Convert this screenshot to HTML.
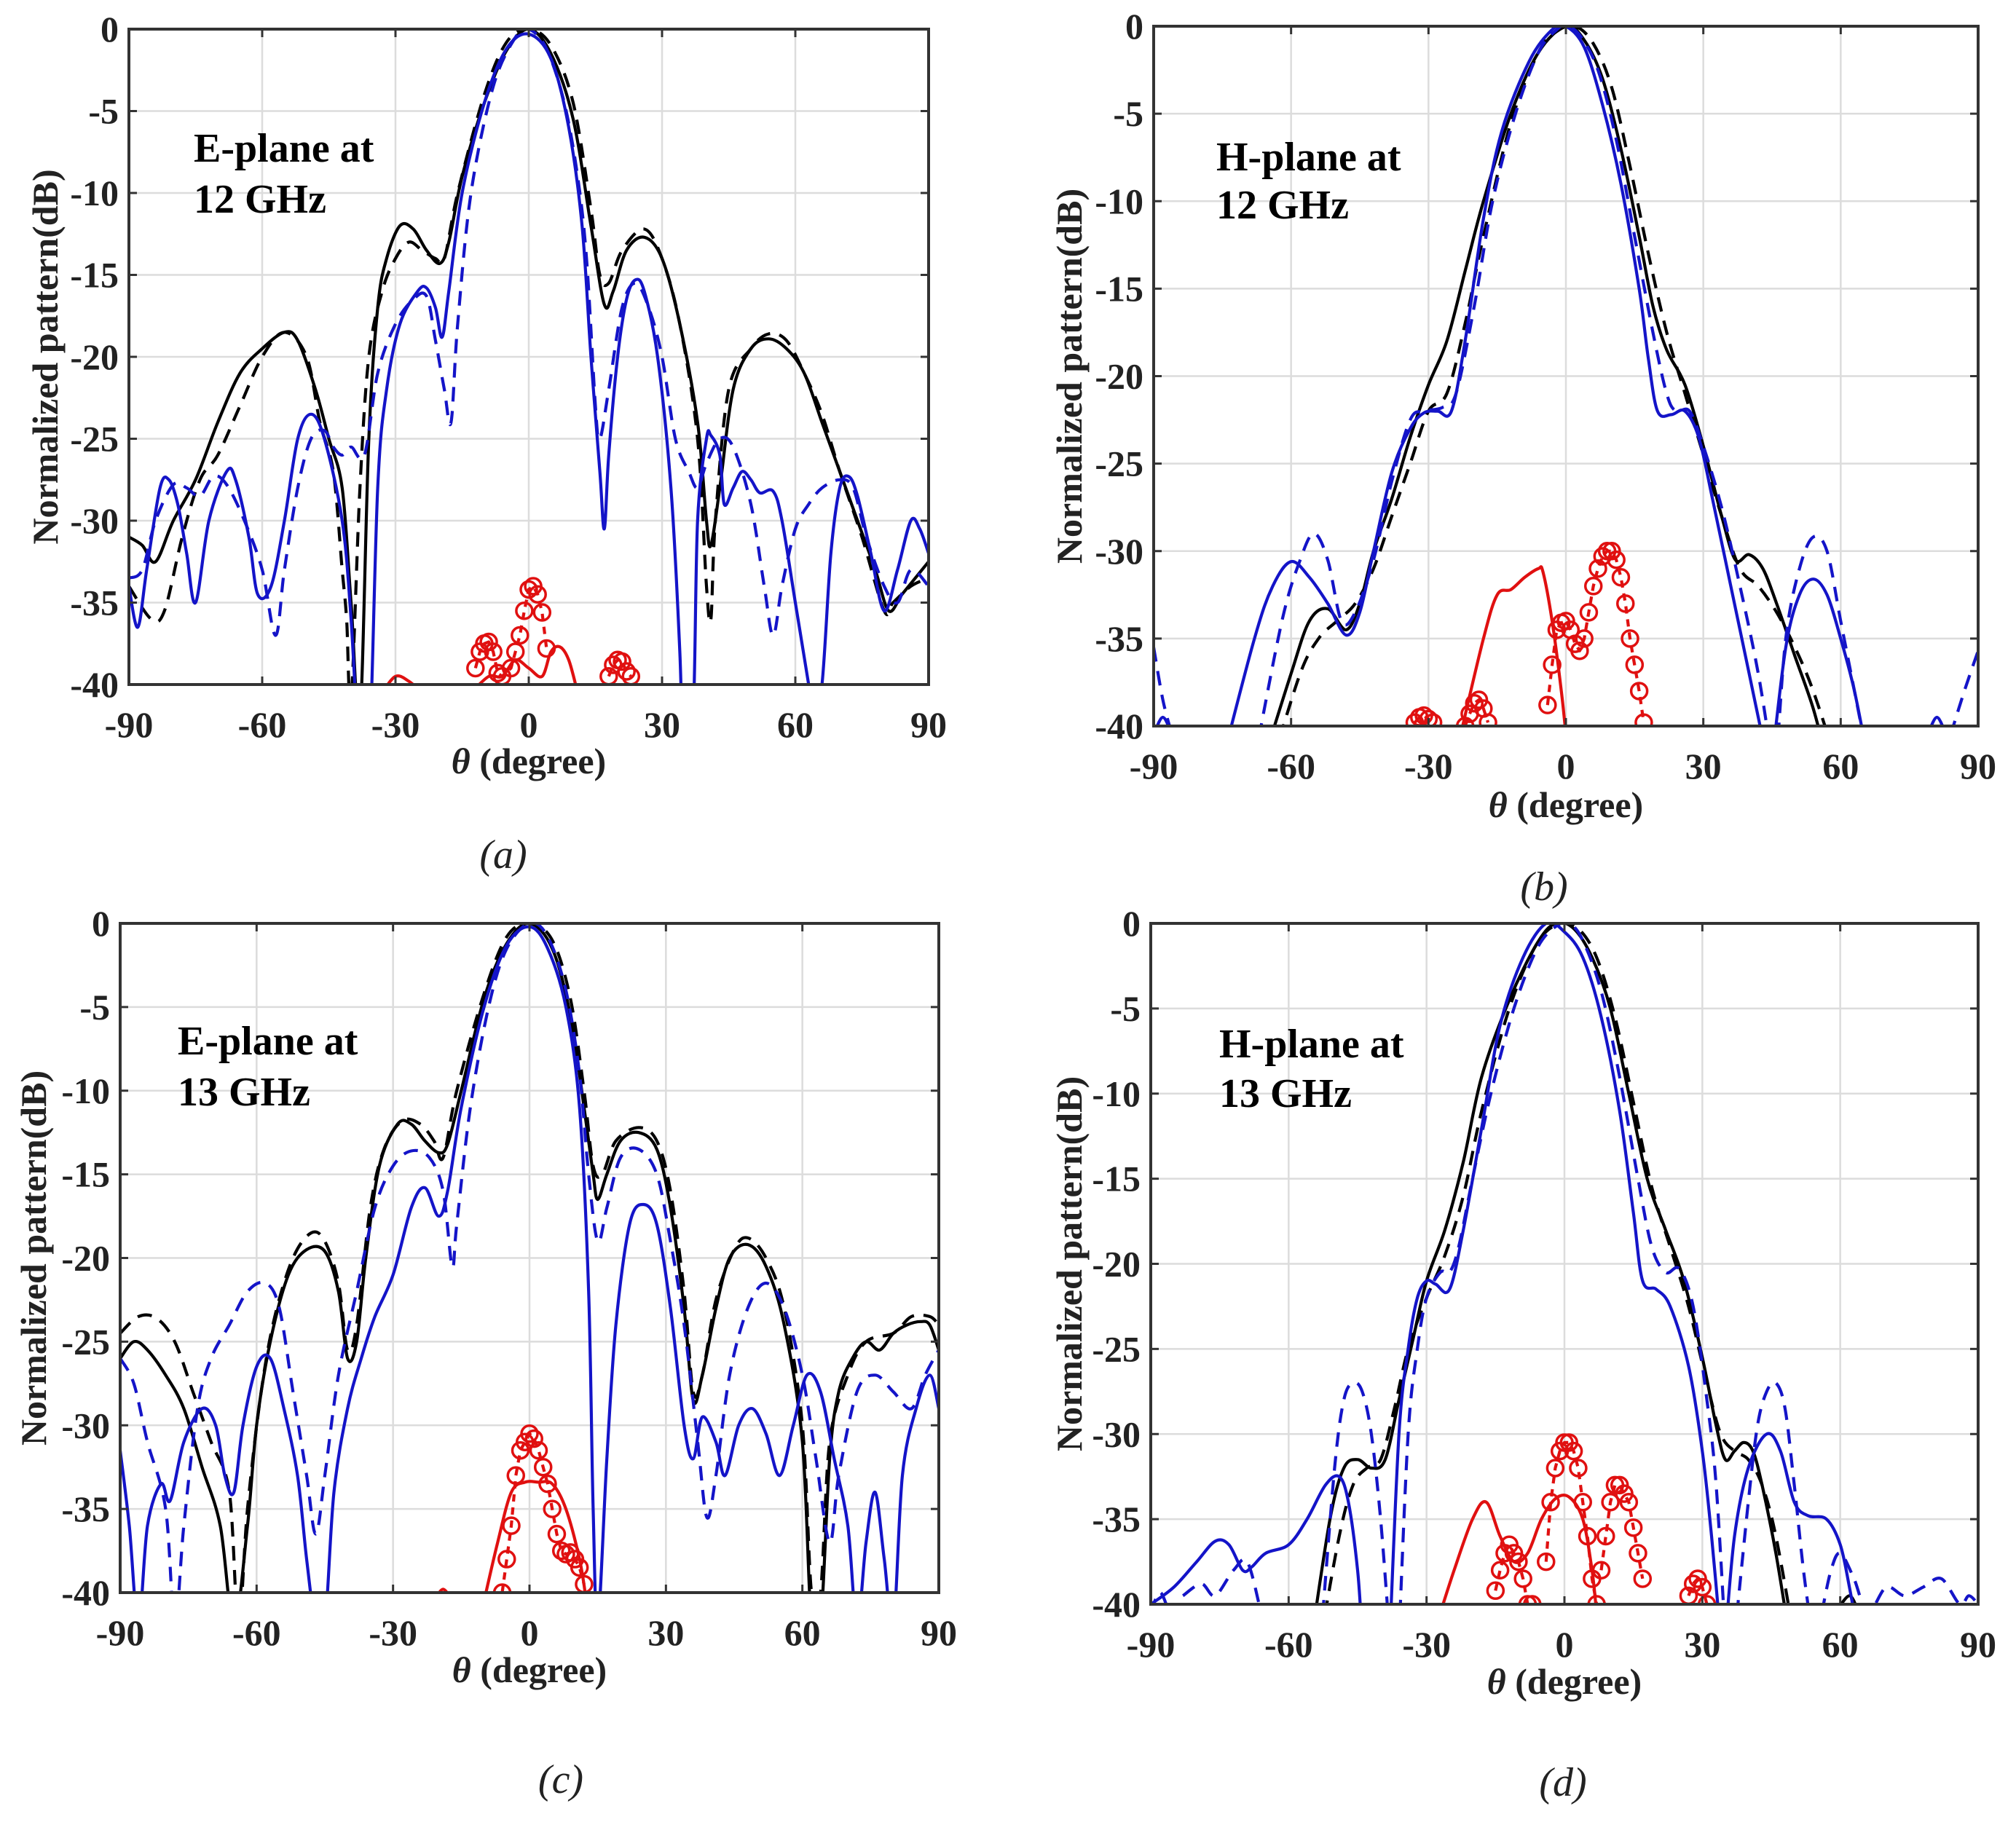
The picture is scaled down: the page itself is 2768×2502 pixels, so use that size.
<!DOCTYPE html>
<html><head><meta charset="utf-8">
<style>
html,body{margin:0;padding:0;background:#fff;}
svg{display:block;}
text{font-family:"Liberation Serif",serif;}
</style></head>
<body>
<svg id="fig" width="2768" height="2502" viewBox="0 0 2768 2502" xmlns="http://www.w3.org/2000/svg"></svg>
<script>
// ---------- DATA ----------
const xTicks = [-90,-60,-30,0,30,60,90];
const yTicks = [0,-5,-10,-15,-20,-25,-30,-35,-40];

// Panel (a) E-plane 12 GHz
const aBlackSolid = [[-90,-31],[-87,-31.5],[-84,-32.5],[-80,-30],[-75,-27.5],[-70,-24],[-65,-21],[-60,-19.5],[-55,-18.5],[-52,-19],[-48,-22],[-45,-25],[-42,-28],[-40,-35],[-38,-42],[-36,-25],[-34,-17],[-32,-14],[-29,-12],[-26,-12.2],[-23,-13.5],[-20,-14.3],[-18,-13],[-15,-9],[-10,-4.5],[-5,-1.3],[0,0],[5,-1.5],[10,-5.5],[14,-12],[17,-16.8],[19,-16],[22,-13.5],[26,-12.7],[30,-14],[34,-18],[38,-24],[40,-30],[41,-31.5],[43,-28],[46,-22],[50,-19.5],[54,-18.9],[58,-19.5],[62,-21],[66,-24],[70,-27],[74,-30],[78,-33],[81,-35.5],[84,-34.5],[87,-33.5],[90,-32.5]];
const aBlackDashed = [[-90,-34],[-85,-36],[-82,-35.5],[-78,-31],[-74,-27.5],[-70,-26],[-65,-23],[-60,-20],[-55,-18.5],[-50,-20],[-47,-24],[-44,-27],[-42,-33],[-41,-36],[-40,-41],[-38,-28],[-36,-20],[-33,-16],[-30,-14],[-27,-13],[-24,-13.5],[-21,-14],[-19,-14],[-16,-10],[-10,-4],[-5,-0.8],[0,0],[5,-1],[10,-4.5],[14,-11],[16,-15],[18,-15.5],[21,-13.5],[26,-12.2],[30,-14],[34,-18],[38,-25],[40,-34],[41,-36],[42,-30],[45,-22],[50,-19.5],[54,-18.6],[58,-19],[62,-21],[66,-23.5],[70,-27],[75,-31],[80,-35.5],[82,-35],[86,-34],[90,-33.5]];
const aBlueSolid = [[-90,-34],[-88,-36.5],[-86,-33],[-83,-28],[-81,-27.5],[-79,-29],[-77,-32],[-75,-35],[-72,-30],[-68,-27],[-66,-27.5],[-63,-31],[-61,-34.5],[-58,-34],[-55,-30],[-52,-25],[-49,-23.5],[-46,-25],[-42,-30],[-40,-36],[-38,-45],[-36,-45],[-34,-28],[-32,-22],[-29,-18],[-25,-16],[-23,-15.8],[-21,-17],[-19.5,-18.8],[-18,-16],[-15,-10],[-10,-4.5],[-5,-1.2],[0,-0.3],[5,-1.8],[9,-6],[12,-12],[14,-20],[16,-27],[17,-30.5],[18,-26],[20,-20],[22,-16.5],[24,-15.3],[26,-16],[29,-20],[32,-28],[34,-38],[35,-46],[37,-42],[38,-30],[40,-25],[41,-24.8],[43,-26],[44,-29],[46,-28],[48,-27],[50,-27.5],[52,-28.3],[55,-28.2],[57,-30],[60,-35],[63,-40],[64,-42],[66,-40],[68,-32],[70,-28],[72,-27.3],[74,-28.5],[77,-32],[80,-35.5],[83,-33],[86,-30],[88,-30.5],[90,-32]];
const aBlueDashed = [[-90,-33.5],[-87,-33],[-84,-30],[-80,-27.8],[-77,-28],[-74,-28.5],[-71,-27.3],[-68,-27.8],[-64,-30],[-60,-33],[-57,-37],[-55,-33],[-52,-28],[-49,-25],[-46,-24.5],[-44,-25.5],[-42,-26],[-40,-25.5],[-37,-26],[-34,-21],[-30,-18],[-26,-16.5],[-23,-16.3],[-21,-19],[-19,-22],[-17.5,-24],[-16,-18],[-13,-10],[-8,-3.5],[-3,-0.5],[0,0],[4,-1.2],[8,-4.5],[11,-9],[13,-14],[15,-23],[16,-25],[18,-22],[21,-17],[24,-15.5],[27,-17],[30,-20],[33,-25],[36,-27],[38,-28],[40,-26.5],[43,-25],[46,-25.5],[50,-29],[53,-34],[55,-37],[57,-34],[60,-30.5],[63,-29],[66,-28],[70,-27.5],[73,-28],[76,-31],[80,-34],[83,-35],[86,-33],[90,-34]];
const aRedSolid = [[-33,-40.5],[-30,-39.5],[-27,-39.8],[-24,-40.5],null,[-13,-40.5],[-9,-39.5],[-6,-39.5],[-3,-38.5],[0,-39],[3,-39.5],[5,-38],[7,-37.7],[9,-38.5],[11,-40.5]];
const aRedCircle = [[-12,-39],[-11,-38],[-10,-37.5],[-9,-37.4],[-8,-38],[-7,-39.3],[-6,-39.5],[-4,-39],[-3,-38],[-2,-37],[-1,-35.5],[0,-34.2],[1,-34],[2,-34.5],[3,-35.6],[4,-37.8],null,[18,-39.5],[19,-38.8],[20,-38.5],[21,-38.6],[22,-39.2],[23,-39.5]];

// Panel (b) H-plane 12 GHz
const bBlackSolid = [[-66,-42],[-60,-37],[-56,-34],[-52,-33.3],[-48,-34.5],[-45,-33],[-42,-30],[-38,-27],[-34,-23.5],[-30,-20.5],[-26,-18],[-22,-14],[-18,-10],[-12,-5],[-6,-1.5],[0,0],[4,-0.8],[8,-3],[12,-7],[16,-12],[19,-16],[22,-18.5],[26,-20.5],[30,-24],[34,-28],[37,-30.5],[40,-30.2],[43,-31],[46,-33],[50,-36],[54,-39],[57,-42]];
const bBlackDashed = [[-64,-42],[-58,-37],[-54,-35],[-50,-34],[-46,-33],[-42,-31],[-38,-28],[-34,-25],[-30,-22],[-26,-21],[-22,-17],[-18,-12],[-12,-5.5],[-6,-1.5],[-2,-0.3],[2,0],[6,-1],[10,-3.5],[14,-8],[18,-13],[22,-17.5],[26,-21],[30,-24.5],[34,-28],[38,-31],[42,-32],[46,-33.5],[50,-35.5],[54,-38],[59,-42]];
const bBlueSolid = [[-75,-42],[-68,-35],[-64,-32],[-60,-30.6],[-56,-31.5],[-52,-33],[-48,-34.8],[-45,-33.5],[-42,-30],[-38,-25.5],[-34,-23],[-31,-22.1],[-28,-22],[-25,-22],[-22,-18],[-18,-11],[-14,-6],[-8,-2],[-3,-0.2],[0,0],[4,-1.2],[8,-4.5],[12,-9],[16,-15],[18,-19],[20,-22],[23,-22.2],[26,-22],[29,-23.5],[32,-27],[36,-32],[40,-37],[44,-42],null,[45,-42],[48,-35.5],[51,-32.5],[54,-31.6],[57,-32.5],[60,-35],[63,-38],[66,-42],null,[-90,-40.5],[-88,-39.5],[-86,-40.5],null,[79,-40.5],[81,-39.5],[83,-40.5]];
const bBlueDashed = [[-68,-42],[-62,-34],[-58,-30.5],[-55,-29],[-52,-30.5],[-49,-34],[-46,-33.5],[-42,-30.5],[-38,-26],[-34,-22.5],[-31,-22],[-27,-21.8],[-24,-21],[-20,-16],[-16,-10],[-11,-5],[-6,-1.5],[-2,-0.2],[0,0],[3,-0.5],[7,-2.5],[11,-6.5],[15,-12],[19,-17.5],[22,-21],[24,-22],[27,-22],[30,-24],[34,-27.5],[38,-32],[42,-37],[45,-42],null,[46,-42],[48,-35],[51,-31],[54,-29.2],[57,-30],[60,-34],[63,-38],[66,-42],null,[-90,-35.5],[-88,-38.5],[-86,-40.5],null,[84,-40.5],[87,-38],[90,-35.7]];
const bRedSolid = [[-23,-40.5],[-18,-35],[-15,-32.5],[-12,-32.2],[-9,-31.5],[-6,-31],[-5,-31.2],[-3,-34],[-1,-38],[0,-40.5]];
const bRedCircle = [[-33,-39.8],[-32,-39.5],[-31,-39.4],[-30,-39.6],[-29,-39.8],null,[-22,-40],[-21,-39.3],[-20,-38.7],[-19,-38.5],[-18,-39],[-17,-39.8],null,[-4,-38.8],[-3,-36.5],[-2,-34.5],[-1,-34.1],[0,-34],[1,-34.5],[2,-35.3],[3,-35.7],[4,-35],[5,-33.5],[6,-32],[7,-31],[8,-30.3],[9,-30],[10,-30],[11,-30.5],[12,-31.5],[13,-33],[14,-35],[15,-36.5],[16,-38],[17,-39.8]];

// Panel (c) E-plane 13 GHz
const cBlackSolid = [[-90,-26],[-87,-25],[-84,-25.5],[-80,-27],[-76,-29],[-72,-32.5],[-68,-36],[-65,-42],[-62,-36],[-60,-30],[-57,-25],[-53,-21],[-49,-19.5],[-45,-19.6],[-42,-22],[-40,-26],[-38,-25],[-36,-20],[-33,-14.5],[-29,-12],[-26,-12],[-23,-13],[-20,-13.7],[-18,-13.2],[-15,-10],[-10,-4.5],[-5,-1.2],[0,0],[5,-1.5],[9,-5.5],[12,-11],[14,-15],[15,-16.5],[17,-15],[20,-13],[24,-12.5],[28,-13.5],[31,-17],[34,-23],[36,-28.5],[38,-27],[41,-23],[44,-20],[48,-19.2],[52,-20.5],[56,-24],[60,-31],[62,-42],[64,-42],[66,-32],[68,-28],[71,-26],[74,-25],[77,-25.5],[80,-24.5],[83,-24],[86,-23.8],[88,-24],[90,-25.5]];
const cBlackDashed = [[-90,-24.5],[-86,-23.5],[-82,-23.6],[-78,-25],[-74,-28],[-70,-31],[-66,-34],[-64,-42],[-62,-35],[-59,-28],[-56,-23.5],[-52,-20],[-48,-18.5],[-45,-19],[-42,-21.5],[-40,-25.5],[-38,-24],[-35,-17],[-32,-13.5],[-28,-11.8],[-24,-12],[-21,-13],[-19,-14],[-16,-10],[-10,-4.2],[-5,-0.8],[0,0],[5,-1],[9,-4.5],[12,-10],[14,-14.5],[16,-15],[19,-13],[24,-12.2],[28,-13],[31,-16],[34,-22],[36,-28],[38,-27],[41,-22.5],[45,-19.5],[48,-18.8],[52,-20],[56,-23],[60,-30],[62,-40],[64,-40],[66,-31],[70,-27],[74,-25],[80,-24.5],[84,-23.5],[88,-23.5],[90,-24]];
const cBlueSolid = [[-90,-31.5],[-88,-36],[-86,-42],[-84,-36],[-81,-33.5],[-79,-34.5],[-76,-31],[-72,-29],[-69,-30],[-67,-33],[-65,-34],[-63,-30],[-60,-26.5],[-57,-26],[-54,-29],[-51,-33],[-49,-38],[-47,-42],[-45,-42],[-43,-34],[-40,-29],[-37,-26],[-34,-23.5],[-30,-21],[-26,-17],[-23,-15.8],[-20,-17.5],[-18,-16],[-15,-11],[-10,-5],[-5,-1.3],[0,-0.2],[4,-1.5],[8,-5],[11,-11],[13,-22],[14,-35],[15,-42],[17,-32],[19,-24],[22,-18],[25,-16.8],[28,-18],[31,-23],[34,-30],[36,-32],[38,-29.5],[41,-31],[43,-33],[46,-30],[49,-29],[52,-30.5],[55,-33],[58,-30],[61,-27],[64,-28],[67,-32],[70,-36],[72,-42],[74,-37],[76,-34],[78,-38],[80,-42],[82,-33],[85,-29],[88,-27],[90,-29]];
const cBlueDashed = [[-90,-26],[-87,-27.5],[-84,-31],[-80,-35],[-78,-42],[-76,-36],[-73,-29],[-70,-26],[-66,-24],[-62,-22],[-58,-21.5],[-55,-23],[-52,-28],[-49,-33],[-47,-36.5],[-45,-33],[-42,-27],[-38,-22],[-34,-17],[-30,-14.5],[-26,-13.6],[-22,-14],[-19,-16],[-17,-20.5],[-16,-18],[-13,-11],[-9,-5],[-5,-1.5],[0,0],[4,-0.8],[8,-4],[11,-9],[13,-15],[15,-19],[17,-17],[20,-14],[24,-13.5],[28,-15],[31,-19],[34,-24],[37,-31],[39,-35.5],[41,-33],[44,-27],[48,-23],[52,-21.5],[56,-23],[60,-27],[63,-32],[66,-37],[68,-33],[72,-28],[76,-27],[80,-28],[84,-29],[87,-27],[90,-25.5]];
const cRedSolid = [[-21,-40.5],[-19,-39.8],[-17,-40.5],null,[-10,-40.5],[-7,-37],[-4,-34],[-1,-33.4],[2,-33.4],[5,-33.5],[8,-35],[11,-38],[12.5,-40.5]];
const cRedCircle = [[-6,-40],[-5,-38],[-4,-36],[-3,-33],[-2,-31.5],[-1,-31],[0,-30.5],[1,-30.8],[2,-31.5],[3,-32.5],[4,-33.5],[5,-35],[6,-36.5],[7,-37.5],[8,-37.7],[9,-37.6],[10,-38],[11,-38.5],[12,-39.5]];

// Panel (d) H-plane 13 GHz
const dBlackSolid = [[-55,-42],[-51,-35],[-48,-32],[-45,-31.5],[-42,-32],[-39,-31.5],[-36,-28],[-33,-24.5],[-30,-21],[-26,-18],[-22,-14],[-18,-9],[-12,-4.5],[-6,-1.2],[-2,0],[2,-0.3],[6,-2],[10,-5],[14,-10],[18,-15],[22,-18],[26,-21],[30,-25.5],[33,-29.5],[35,-31.5],[37,-31],[39,-30.5],[41,-31],[43,-33],[46,-37],[49,-42],null,[59,-40.5],[62,-39.5],[64,-40.5]];
const dBlackDashed = [[-53,-42],[-49,-36],[-46,-33],[-43,-32],[-40,-31.5],[-37,-28.5],[-34,-25],[-30,-22],[-26,-19.5],[-22,-16],[-18,-11],[-12,-5],[-6,-1.2],[-1,0],[3,-0.3],[7,-2],[11,-5.5],[15,-10.5],[19,-15.5],[23,-19],[27,-22.5],[31,-27],[34,-30],[37,-31],[40,-31.5],[43,-33],[46,-36],[50,-42]];
const dBlueSolid = [[-90,-40],[-85,-39],[-80,-37.5],[-76,-36.3],[-73,-36.5],[-70,-38],[-68,-37.8],[-65,-37],[-60,-36.5],[-56,-35],[-52,-33],[-49,-32.5],[-47,-34],[-45,-38],[-44,-42],null,[-38,-42],[-36,-30],[-34,-25],[-32,-22],[-30,-21],[-28,-21.2],[-25,-21.5],[-22,-18],[-18,-12],[-14,-6],[-9,-2],[-4,0],[0,-0.5],[4,-2],[8,-5.5],[12,-11],[15,-17],[17,-21],[20,-21.5],[23,-22.5],[27,-26],[30,-31],[32,-36],[34,-42],null,[35,-42],[37,-36],[40,-32],[44,-30],[47,-31],[50,-34],[53,-34.8],[57,-35],[60,-36.5],[62,-39],[64,-42]];
const dBlueDashed = [[-90,-40.5],[-88,-39.3],[-86,-40.5],null,[-83,-39.5],[-79,-38.8],[-76,-39.5],[-72,-38],[-69,-37.5],[-66,-40.5],null,[-53,-42],[-50,-32],[-48,-28],[-46,-27],[-44,-27.5],[-42,-30],[-40,-35],[-38,-42],null,[-36,-42],[-34,-30],[-32,-25],[-30,-22],[-27,-20.5],[-25,-20.5],[-23,-19],[-20,-15],[-16,-10],[-11,-5],[-6,-1.5],[-2,-0.2],[1,0],[4,-1],[8,-4],[12,-9],[16,-15],[19,-19],[22,-20.5],[25,-20.3],[28,-22.5],[31,-28],[33,-33],[35,-42],null,[37,-42],[40,-34],[42,-29.5],[44,-27.5],[46,-27],[48,-28.5],[50,-33],[52,-38],[54,-42],null,[56,-40.5],[58,-38],[60,-37],[63,-38.5],[66,-40.5],[70,-39],[74,-39.5],[78,-39],[82,-38.5],[86,-40],[88,-39.5],[90,-40]];
const dRedSolid = [[-27,-40.5],[-24,-38],[-20,-35],[-17,-34],[-14,-36],[-11,-37.5],[-8,-37],[-5,-35],[-2,-33.8],[1,-33.7],[4,-35],[6,-38],[7,-40.5]];
const dRedCircle = [[-15,-39.2],[-14,-38],[-13,-37],[-12,-36.5],[-11,-37],[-10,-37.5],[-9,-38.5],[-8,-40],[-7,-40],null,[-4,-37.5],[-3,-34],[-2,-32],[-1,-31],[0,-30.5],[1,-30.5],[2,-31],[3,-32],[4,-34],[5,-36],[6,-38.5],[7,-40],null,[8,-38],[9,-36],[10,-34],[11,-33],[12,-33],[13,-33.5],[14,-34],[15,-35.5],[16,-37],[17,-38.5],null,[27,-39.5],[28,-38.8],[29,-38.5],[30,-39],[31,-40]];

// ---------- LAYOUT ----------
const panels = [
 {id:'a', L:177, R:1275, T:40, B:940, yTitleX:62, xTitleY:1062, cap:'(a)', capX:691, capY:1192,
  note1:'E-plane at', note2:'12 GHz', noteX:266, noteY1:222, noteY2:292,
  series:[aBlackSolid,aBlackDashed,aBlueSolid,aBlueDashed,aRedSolid,aRedCircle]},
 {id:'b', L:1584, R:2716, T:36, B:997, yTitleX:1468, xTitleY:1122, cap:'(b)', capX:2120, capY:1236,
  note1:'H-plane at', note2:'12 GHz', noteX:1670, noteY1:234, noteY2:300,
  series:[bBlackSolid,bBlackDashed,bBlueSolid,bBlueDashed,bRedSolid,bRedCircle]},
 {id:'c', L:165, R:1289, T:1268, B:2187, yTitleX:46, xTitleY:2310, cap:'(c)', capX:770, capY:2462,
  note1:'E-plane at', note2:'13 GHz', noteX:244, noteY1:1448, noteY2:1518,
  series:[cBlackSolid,cBlackDashed,cBlueSolid,cBlueDashed,cRedSolid,cRedCircle]},
 {id:'d', L:1580, R:2716, T:1268, B:2203, yTitleX:1468, xTitleY:2326, cap:'(d)', capX:2146, capY:2466,
  note1:'H-plane at', note2:'13 GHz', noteX:1674, noteY1:1452, noteY2:1520,
  series:[dBlackSolid,dBlackDashed,dBlueSolid,dBlueDashed,dRedSolid,dRedCircle]}
];
const styles = [
 {name:'black-solid', color:'#000', dash:null},
 {name:'black-dashed', color:'#000', dash:'20 13'},
 {name:'blue-solid', color:'#1414c8', dash:null},
 {name:'blue-dashed', color:'#1414c8', dash:'20 13'},
 {name:'red-solid', color:'#e01010', dash:null},
 {name:'red-circle', color:'#e01010', dash:'10 8', marker:true}
];

const NS = 'http://www.w3.org/2000/svg';
const fig = document.getElementById('fig');
function mk(tag, attrs, parent){const e=document.createElementNS(NS,tag);for(const k in attrs)e.setAttribute(k,attrs[k]);(parent||fig).appendChild(e);return e;}

function smoothPath(pts){
  if(pts.length<2) return '';
  let d='M'+pts[0][0].toFixed(1)+','+pts[0][1].toFixed(1);
  for(let i=0;i<pts.length-1;i++){
    const p0=pts[i-1]||pts[i], p1=pts[i], p2=pts[i+1], p3=pts[i+2]||p2;
    const c1x=p1[0]+(p2[0]-p0[0])/6, c1y=p1[1]+(p2[1]-p0[1])/6;
    const c2x=p2[0]-(p3[0]-p1[0])/6, c2y=p2[1]-(p3[1]-p1[1])/6;
    d+=' C'+c1x.toFixed(1)+','+c1y.toFixed(1)+' '+c2x.toFixed(1)+','+c2y.toFixed(1)+' '+p2[0].toFixed(1)+','+p2[1].toFixed(1);
  }
  return d;
}

panels.forEach(p=>{
  const xs = t => p.L + (t+90)/180*(p.R-p.L);
  const ys = v => p.T + (0-v)/40*(p.B-p.T);
  const g = mk('g',{});
  
  
  const defs = mk('defs',{},g);
  const cp = mk('clipPath',{id:'clip-'+p.id},defs);
  mk('rect',{x:p.L,y:p.T,width:p.R-p.L,height:p.B-p.T},cp);
  mk('rect',{x:p.L,y:p.T,width:p.R-p.L,height:p.B-p.T,fill:'#fff'},g);
  // grid
  const grid = mk('g',{stroke:'#dcdcdc','stroke-width':2.5},g);
  
  
  xTicks.forEach(t=>{mk('line',{x1:xs(t),x2:xs(t),y1:p.T,y2:p.B},grid);});
  yTicks.forEach(v=>{mk('line',{x1:p.L,x2:p.R,y1:ys(v),y2:ys(v)},grid);});
  // series
  const sg = mk('g',{'clip-path':'url(#clip-'+p.id+')'},g);
  p.series.forEach((data,si)=>{
    const st = styles[si];
    const segs=[]; let cur=[];
    data.forEach(pt=>{ if(pt===null){ if(cur.length) segs.push(cur); cur=[]; } else cur.push([xs(pt[0]),ys(pt[1])]); });
    if(cur.length) segs.push(cur);
    const d = segs.map(s=>st.marker? s.map((q,i)=>(i?'L':'M')+q[0].toFixed(1)+','+q[1].toFixed(1)).join(' ') : smoothPath(s)).join(' ');
    const path = mk('path',{d:d,fill:'none',stroke:st.color,'stroke-width':4.2,'stroke-linejoin':'round'},sg);
    if(st.dash) path.setAttribute('stroke-dasharray',st.dash);
    
    
    if(st.marker){
      data.forEach(pt=>{ if(pt===null) return;
        const c = mk('circle',{cx:xs(pt[0]),cy:ys(pt[1]),r:11,fill:'none',stroke:st.color,'stroke-width':3.5},sg);
        
        
      });
    }
  });
  // axes box + ticks
  const ax = mk('rect',{x:p.L,y:p.T,width:p.R-p.L,height:p.B-p.T,fill:'none',stroke:'#333','stroke-width':4},g);
  
  
  const tk = mk('g',{stroke:'#333','stroke-width':3},g);
  xTicks.forEach(t=>{mk('line',{x1:xs(t),x2:xs(t),y1:p.B,y2:p.B-11},tk);mk('line',{x1:xs(t),x2:xs(t),y1:p.T,y2:p.T+11},tk);});
  yTicks.forEach(v=>{mk('line',{x1:p.L,x2:p.L+11,y1:ys(v),y2:ys(v)},tk);mk('line',{x1:p.R,x2:p.R-11,y1:ys(v),y2:ys(v)},tk);});
  // tick labels
  xTicks.forEach(t=>{
    const e = mk('text',{x:xs(t),y:p.B+72,'text-anchor':'middle','font-size':50,'font-weight':'bold',fill:'#222'},g);
    e.textContent = String(t);
    
    
  });
  yTicks.forEach(v=>{
    const e = mk('text',{x:p.L-14,y:ys(v)+17,'text-anchor':'end','font-size':50,'font-weight':'bold',fill:'#222'},g);
    e.textContent = String(v);
    
    
  });
  // titles
  const cy = (p.T+p.B)/2;
  const yt = mk('text',{x:p.yTitleX,y:cy,'text-anchor':'middle','font-size':50,'font-weight':'bold',fill:'#222',transform:'rotate(-90 '+p.yTitleX+' '+cy+')','dominant-baseline':'central'},g);
  yt.textContent='Normalized pattern(dB)';
  
  
  const xt = mk('text',{x:(p.L+p.R)/2,y:p.xTitleY,'text-anchor':'middle','font-size':50,'font-weight':'bold',fill:'#222'},g);
  const th = mk('tspan',{'font-style':'italic'},xt); th.textContent='θ';
  const rest = mk('tspan',{},xt); rest.textContent=' (degree)';
  
  
  // annotation
  const n1 = mk('text',{x:p.noteX,y:p.noteY1,'font-size':56,'font-weight':'bold',fill:'#000'},g);
  n1.textContent=p.note1;
  
  
  const n2 = mk('text',{x:p.noteX,y:p.noteY2,'font-size':56,'font-weight':'bold',fill:'#000'},g);
  n2.textContent=p.note2;
  
  
  // caption
  const cap = mk('text',{x:p.capX,y:p.capY,'text-anchor':'middle','font-size':56,'font-style':'italic',fill:'#222'},g);
  cap.textContent=p.cap;
  
  
});
</script>
</body></html>
